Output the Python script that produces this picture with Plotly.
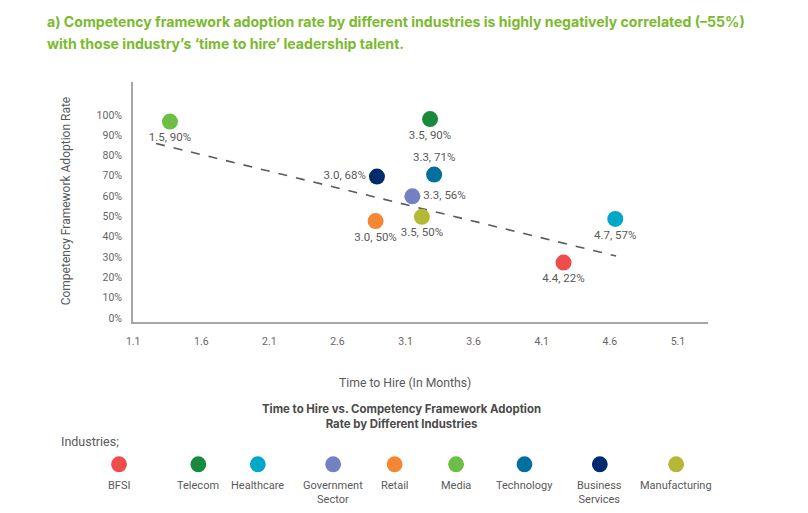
import plotly.graph_objects as go

# ---------------- data ----------------
industries = ["BFSI", "Telecom", "Healthcare", "Government Sector", "Retail",
              "Media", "Technology", "Business Services", "Manufacturing"]
legend_labels = ["BFSI", "Telecom", "Healthcare", "Government<br>Sector", "Retail",
                 "Media", "Technology", "Business<br>Services", "Manufacturing"]
colors = ["#EE4D4B", "#178A3E", "#00A8C8", "#7381C3", "#F58634",
          "#6CBE45", "#0070A0", "#002B6F", "#B4B835"]
# plotted positions
time_to_hire = [4.26, 3.28, 4.64, 3.15, 2.88, 1.37, 3.31, 2.89, 3.22]
adoption = [27.3, 97.9, 48.8, 59.9, 47.7, 96.7, 70.6, 69.6, 49.8]
# printed point labels
point_labels = ["4.4, 22%", "3.5, 90%", "4.7, 57%", "3.3, 56%", "3.0, 50%",
                "1.5, 90%", "3.3, 71%", "3.0, 68%", "3.5, 50%"]
label_pos = ["bottom center", "bottom center", "bottom center", "middle right",
             "bottom center", "bottom center", "top center", "middle left",
             "bottom center"]
trend_x = [1.268, 4.646]
trend_y = [85.9, 30.5]
x_ticks = [1.1, 1.6, 2.1, 2.6, 3.1, 3.6, 4.1, 4.6, 5.1]
y_ticks = [0, 10, 20, 30, 40, 50, 60, 70, 80, 90, 100]

W, H = 808, 513
FONT = "Roboto"
BOLD_FONT = "Inter"
GRAY = "#595959"

fig = go.Figure()
fig.add_trace(go.Scatter(
    x=trend_x, y=trend_y, mode="lines",
    line=dict(color="#5A5A5A", width=1.6, dash="dash"),
    hoverinfo="skip", showlegend=False))
fig.add_trace(go.Scatter(
    x=time_to_hire, y=adoption, mode="markers+text",
    marker=dict(size=16, color=colors, line=dict(width=0)),
    text=point_labels, textposition=label_pos,
    textfont=dict(family=FONT, size=11.5, color=GRAY),
    customdata=industries, hovertemplate="%{customdata}<extra></extra>",
    showlegend=False))

xd0, xd1 = 127 / W, 707 / W
yd0, yd1 = (H - 324) / H, (H - 82) / H

fig.update_layout(
    width=W, height=H, margin=dict(l=0, r=0, t=0, b=0),
    paper_bgcolor="white", plot_bgcolor="white",
    font=dict(family=FONT, color=GRAY),
    xaxis=dict(domain=[xd0, xd1], range=[1.098, 5.320],
               tickvals=x_ticks, ticktext=[f"{v:.1f}" for v in x_ticks],
               showgrid=False, zeroline=False,
               showline=True, linecolor="#A6A6A6", linewidth=1.6,
               ticks="outside", ticklen=8, tickcolor="rgba(0,0,0,0)",
               tickfont=dict(family=FONT, size=10.5, color="#666666")),
    yaxis=dict(domain=[yd0, yd1], range=[-2, 116.4],
               tickvals=y_ticks, ticktext=[f"{v}%" for v in y_ticks],
               showgrid=False, zeroline=False,
               showline=True, linecolor="#A6A6A6", linewidth=1.6,
               ticks="outside", ticklen=7, tickcolor="rgba(0,0,0,0)",
               tickfont=dict(family=FONT, size=10.5, color="#666666")),
)

ann = []
TITLE_GREEN = "#7BBA2E"
ann.append(dict(text="<b>a) Competency framework adoption rate by different industries is highly negatively correlated (–55%)</b>",
                x=38 / W, y=1 - 22 / H, xref="paper", yref="paper",
                xanchor="left", yanchor="middle", showarrow=False,
                font=dict(family=BOLD_FONT, size=14.1, color=TITLE_GREEN)))
ann.append(dict(text="<b>with those industry’s ‘time to hire’ leadership talent.</b>",
                x=38 / W, y=1 - 44 / H, xref="paper", yref="paper",
                xanchor="left", yanchor="middle", showarrow=False,
                font=dict(family=BOLD_FONT, size=14.1, color=TITLE_GREEN)))
ann.append(dict(text="Competency Framework Adoption Rate", textangle=-90,
                x=59 / W, y=1 - 202 / H, xref="paper", yref="paper",
                xanchor="center", yanchor="middle", showarrow=False,
                font=dict(family=FONT, size=12, color=GRAY)))
ann.append(dict(text="Time to Hire (In Months)",
                x=401 / W, y=1 - 385 / H, xref="paper", yref="paper",
                xanchor="center", yanchor="middle", showarrow=False,
                font=dict(family=FONT, size=12.2, color=GRAY)))
ann.append(dict(text="<b>Time to Hire vs. Competency Framework Adoption<br>Rate by Different Industries</b>",
                x=398 / W, y=1 - 419 / H, xref="paper", yref="paper",
                xanchor="center", yanchor="middle", showarrow=False,
                font=dict(family=BOLD_FONT, size=11.4, color="#4A4A4A")))
ann.append(dict(text="Industries;",
                x=52 / W, y=1 - 444 / H, xref="paper", yref="paper",
                xanchor="left", yanchor="middle", showarrow=False,
                font=dict(family=FONT, size=12.5, color=GRAY)))

# legend layout slots (pixel centres)
legend_cx = [113, 193, 253, 329, 391, 453, 522, 598, 675]
shapes = []
r = 8
for cx, col, lab in zip(legend_cx, colors, legend_labels):
    shapes.append(dict(type="circle", xref="paper", yref="paper",
                       x0=(cx - r) / W, x1=(cx + r) / W,
                       y0=1 - (467 + r) / H, y1=1 - (467 - r) / H,
                       fillcolor=col, line=dict(width=0)))
    ann.append(dict(text=lab, x=cx / W, y=1 - 480 / H, xref="paper", yref="paper",
                    xanchor="center", yanchor="top", showarrow=False,
                    font=dict(family=FONT, size=11, color=GRAY)))

fig.update_layout(annotations=ann, shapes=shapes)
fig.write_html("out.html")
